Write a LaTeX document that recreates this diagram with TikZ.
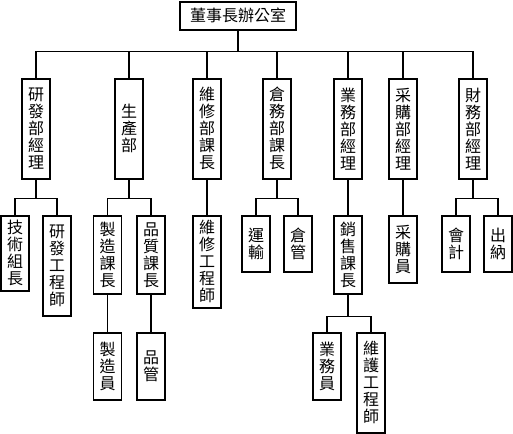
\documentclass[tikz,border=0pt]{standalone}
\usepackage{fontspec}
\newfontfamily\tcfont{Noto Sans CJK TC}
\tikzset{
  box/.style={draw, line width=1.7pt, rectangle, inner sep=0pt, minimum width=28pt,
    anchor=north, align=center, font=\tcfont\fontsize{16}{17}\selectfont},
  link/.style={line width=1.2pt}
}
\begin{document}
\begin{tikzpicture}[x=1pt,y=-1pt]
\useasboundingbox (0,0) rectangle (513,433);
% top
\node[box, minimum width=116pt, minimum height=28pt] (top) at (238,1) {董事長辦公室};
% level 1
\node[box, minimum height=100pt] (A) at (36,78)  {研\\發\\部\\經\\理};
\node[box, minimum height=100pt] (B) at (129,78) {生\\產\\部};
\node[box, minimum height=100pt] (C) at (207,78) {維\\修\\部\\課\\長};
\node[box, minimum height=100pt] (D) at (277,78) {倉\\務\\部\\課\\長};
\node[box, minimum height=100pt] (E) at (348,78) {業\\務\\部\\經\\理};
\node[box, minimum height=100pt] (F) at (403,78) {采\\購\\部\\經\\理};
\node[box, minimum height=100pt] (G) at (473,78) {財\\務\\部\\經\\理};
% level 2
\node[box, minimum height=75pt]  (A1) at (15,215)  {技\\術\\組\\長};
\node[box, minimum height=100pt] (A2) at (57,215)  {研\\發\\工\\程\\師};
\node[box, minimum height=78pt]  (B1) at (107.5,215) {製\\造\\課\\長};
\node[box, minimum height=78pt]  (B2) at (151,215) {品\\質\\課\\長};
\node[box, minimum height=92pt]  (C1) at (207,215) {維\\修\\工\\程\\師};
\node[box, minimum height=56pt]  (D1) at (256,215) {運\\輸};
\node[box, minimum height=56pt]  (D2) at (298,215) {倉\\管};
\node[box, minimum height=78pt]  (E1) at (348,215) {銷\\售\\課\\長};
\node[box, minimum height=67pt]  (F1) at (403,215) {采\\購\\員};
\node[box, minimum height=56pt]  (G1) at (456,215) {會\\計};
\node[box, minimum height=56pt]  (G2) at (498,215) {出\\納};
% level 3
\node[box, minimum height=67pt]  (B11) at (107.5,332) {製\\造\\員};
\node[box, minimum height=67pt]  (B21) at (151,332)   {品\\管};
\node[box, minimum height=67pt]  (E11) at (327,332)   {業\\務\\員};
\node[box, minimum height=100pt] (E12) at (371,332)   {維\\護\\工\\程\\師};
% connectors
\foreach \c in {A,B,C,D,E,F,G}
  \draw[link] (top.south) -- ++(0,21) -| (\c.north);
\foreach \p/\c in {A/A1,A/A2,B/B1,B/B2,D/D1,D/D2,G/G1,G/G2}
  \draw[link] (\p.south) -- ++(0,19) -| (\c.north);
\foreach \p/\c in {C/C1,E/E1,F/F1,B1/B11,B2/B21}
  \draw[link] (\p.south) -- (\c.north);
\foreach \c in {E11,E12}
  \draw[link] (E1.south) -- ++(0,22) -| (\c.north);
\end{tikzpicture}
\end{document}
